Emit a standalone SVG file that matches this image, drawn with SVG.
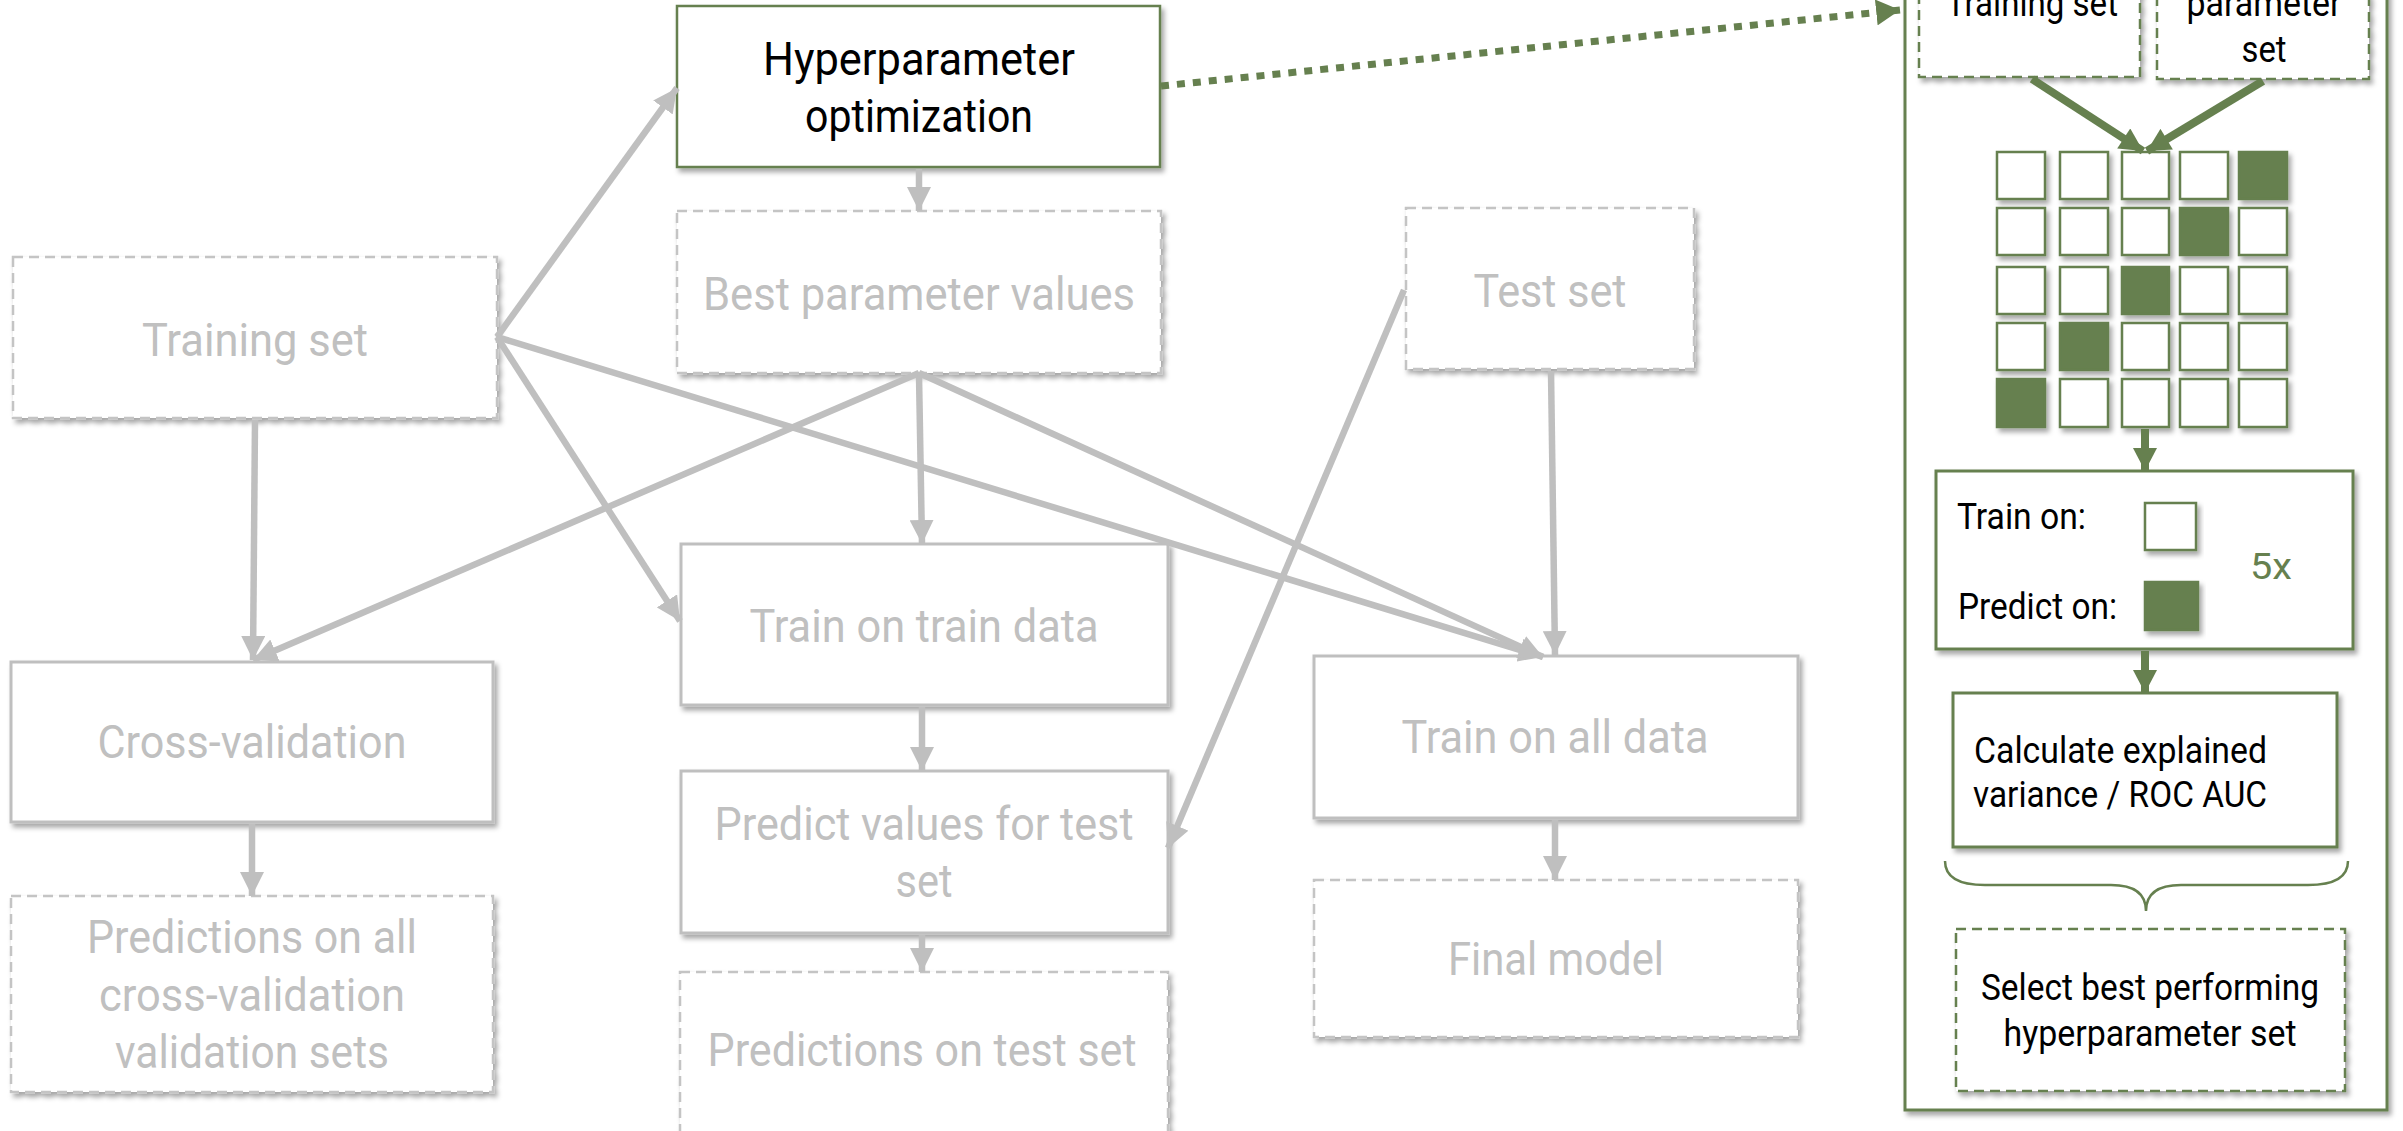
<svg xmlns="http://www.w3.org/2000/svg" width="2403" height="1131" viewBox="0 0 2403 1131">
  <style>
    .gbox { fill: #ffffff; stroke: #bfbfbf; stroke-width: 3; }
    .gdash { fill: #ffffff; stroke: #c4c4c4; stroke-width: 2.5; stroke-dasharray: 10 6; }
    .hbox { fill: #ffffff; stroke: #66804f; stroke-width: 2.5; }
    .vbox { fill: #ffffff; stroke: #66804f; stroke-width: 3; }
    .vdash { fill: #ffffff; stroke: #66804f; stroke-width: 2.5; stroke-dasharray: 10 6; }
    .cell { fill: #ffffff; stroke: #66804f; stroke-width: 2.5; }
    .cell.on { fill: #66804f; }
    .gt { font-family: Roboto, "Liberation Sans", sans-serif; font-size: 47px; fill: #c0c0c0; text-anchor: middle; }
    .bt { font-family: Roboto, "Liberation Sans", sans-serif; font-size: 47px; fill: #000000; text-anchor: middle; }
    .pt { font-family: Roboto, "Liberation Sans", sans-serif; font-size: 36px; fill: #000000; }
    .gline { fill: none; stroke: #bfbfbf; stroke-width: 6.5; marker-end: url(#ag); }
    .vline { fill: none; stroke: #66804f; stroke-width: 8; marker-end: url(#av); }
  </style>
  <defs>
    <filter id="sh" x="-10%" y="-10%" width="125%" height="130%">
      <feDropShadow dx="3" dy="4" stdDeviation="2.5" flood-color="#000000" flood-opacity="0.35"/>
    </filter>
    <marker id="ag" markerUnits="userSpaceOnUse" markerWidth="24" markerHeight="24" refX="22" refY="11" orient="auto" viewBox="0 0 22 22">
      <path d="M0,0 L22,11 L0,22 z" fill="#bfbfbf"/>
    </marker>
    <marker id="av" markerUnits="userSpaceOnUse" markerWidth="24" markerHeight="24" refX="22" refY="11.5" orient="auto" viewBox="0 0 22 23">
      <path d="M0,0 L22,11.5 L0,23 z" fill="#66804f"/>
    </marker>
    <marker id="adot" markerUnits="userSpaceOnUse" markerWidth="24" markerHeight="26" refX="22" refY="12" orient="auto" viewBox="0 0 22 24">
      <path d="M0,0 L22,12 L0,24 z" fill="#66804f"/>
    </marker>
  </defs>

  <!-- main workflow -->
  <g id="training-set">
    <rect class="gdash" x="13" y="257" width="484" height="161" filter="url(#sh)"/>
    <text class="gt" x="255" y="356" textLength="226" lengthAdjust="spacingAndGlyphs">Training set</text>
  </g>
  <g id="hyperparameter-optimization">
    <rect class="hbox" x="677" y="6" width="483" height="161" filter="url(#sh)"/>
    <text class="bt" x="919" y="75" textLength="312" lengthAdjust="spacingAndGlyphs">Hyperparameter</text>
    <text class="bt" x="919" y="132" textLength="228" lengthAdjust="spacingAndGlyphs">optimization</text>
  </g>
  <g id="best-parameter-values">
    <rect class="gdash" x="677" y="211" width="484" height="162" filter="url(#sh)"/>
    <text class="gt" x="919" y="310" textLength="432" lengthAdjust="spacingAndGlyphs">Best parameter values</text>
  </g>
  <g id="test-set">
    <rect class="gdash" x="1406" y="208" width="288" height="161" filter="url(#sh)"/>
    <text class="gt" x="1550" y="307" textLength="153" lengthAdjust="spacingAndGlyphs">Test set</text>
  </g>
  <g id="cross-validation">
    <rect class="gbox" x="11" y="662" width="482" height="160" filter="url(#sh)"/>
    <text class="gt" x="252" y="758" textLength="309" lengthAdjust="spacingAndGlyphs">Cross-validation</text>
  </g>
  <g id="cv-predictions">
    <rect class="gdash" x="11" y="896" width="482" height="196" filter="url(#sh)"/>
    <text class="gt" x="252" y="953" textLength="330" lengthAdjust="spacingAndGlyphs">Predictions on all</text>
    <text class="gt" x="252" y="1011" textLength="306" lengthAdjust="spacingAndGlyphs">cross-validation</text>
    <text class="gt" x="252" y="1068" textLength="274" lengthAdjust="spacingAndGlyphs">validation sets</text>
  </g>
  <g id="train-on-train-data">
    <rect class="gbox" x="681" y="544" width="487" height="161" filter="url(#sh)"/>
    <text class="gt" x="924" y="642" textLength="349" lengthAdjust="spacingAndGlyphs">Train on train data</text>
  </g>
  <g id="predict-test-values">
    <rect class="gbox" x="681" y="771" width="487" height="162" filter="url(#sh)"/>
    <text class="gt" x="924" y="840" textLength="419" lengthAdjust="spacingAndGlyphs">Predict values for test</text>
    <text class="gt" x="924" y="897" textLength="57" lengthAdjust="spacingAndGlyphs">set</text>
  </g>
  <g id="test-predictions">
    <rect class="gdash" x="680" y="972" width="488" height="161" filter="url(#sh)"/>
    <text class="gt" x="922" y="1066" textLength="429" lengthAdjust="spacingAndGlyphs">Predictions on test set</text>
  </g>
  <g id="train-on-all-data">
    <rect class="gbox" x="1314" y="656" width="484" height="162" filter="url(#sh)"/>
    <text class="gt" x="1555" y="753" textLength="307" lengthAdjust="spacingAndGlyphs">Train on all data</text>
  </g>
  <g id="final-model">
    <rect class="gdash" x="1314" y="880" width="484" height="157" filter="url(#sh)"/>
    <text class="gt" x="1556" y="975" textLength="216" lengthAdjust="spacingAndGlyphs">Final model</text>
  </g>

  <!-- optimization detail panel -->
  <g id="optimization-panel">
    <rect class="vbox" x="1905" y="-20" width="482" height="1130" filter="url(#sh)"/>
  </g>
  <g id="panel-training-set">
    <rect class="vdash" x="1919" y="-80" width="221" height="157" filter="url(#sh)"/>
    <text class="pt" x="2032" y="16" text-anchor="middle" textLength="172" lengthAdjust="spacingAndGlyphs">Training set</text>
  </g>
  <g id="panel-parameter-set">
    <rect class="vdash" x="2157" y="-80" width="212" height="159" filter="url(#sh)"/>
    <text class="pt" x="2264" y="16" text-anchor="middle" textLength="155" lengthAdjust="spacingAndGlyphs">parameter</text>
    <text class="pt" x="2264" y="62" text-anchor="middle" textLength="45" lengthAdjust="spacingAndGlyphs">set</text>
  </g>
  <g id="fold-grid" filter="url(#sh)">
    <rect class="cell" x="1997" y="152" width="48" height="47"/>
    <rect class="cell" x="2060" y="152" width="48" height="47"/>
    <rect class="cell" x="2122" y="152" width="47" height="47"/>
    <rect class="cell" x="2180" y="152" width="48" height="47"/>
    <rect class="cell on" x="2239" y="152" width="48" height="47"/>
    <rect class="cell" x="1997" y="208" width="48" height="47"/>
    <rect class="cell" x="2060" y="208" width="48" height="47"/>
    <rect class="cell" x="2122" y="208" width="47" height="47"/>
    <rect class="cell on" x="2180" y="208" width="48" height="47"/>
    <rect class="cell" x="2239" y="208" width="48" height="47"/>
    <rect class="cell" x="1997" y="267" width="48" height="47"/>
    <rect class="cell" x="2060" y="267" width="48" height="47"/>
    <rect class="cell on" x="2122" y="267" width="47" height="47"/>
    <rect class="cell" x="2180" y="267" width="48" height="47"/>
    <rect class="cell" x="2239" y="267" width="48" height="47"/>
    <rect class="cell" x="1997" y="323" width="48" height="47"/>
    <rect class="cell on" x="2060" y="323" width="48" height="47"/>
    <rect class="cell" x="2122" y="323" width="47" height="47"/>
    <rect class="cell" x="2180" y="323" width="48" height="47"/>
    <rect class="cell" x="2239" y="323" width="48" height="47"/>
    <rect class="cell on" x="1997" y="379" width="48" height="48"/>
    <rect class="cell" x="2060" y="379" width="48" height="48"/>
    <rect class="cell" x="2122" y="379" width="47" height="48"/>
    <rect class="cell" x="2180" y="379" width="48" height="48"/>
    <rect class="cell" x="2239" y="379" width="48" height="48"/>
  </g>
  <g id="train-predict-loop">
    <rect class="vbox" x="1936" y="471" width="417" height="178" filter="url(#sh)"/>
    <text class="pt" x="1957" y="529" textLength="129" lengthAdjust="spacingAndGlyphs">Train on:</text>
    <text class="pt" x="1958" y="619" textLength="159" lengthAdjust="spacingAndGlyphs">Predict on:</text>
    <rect class="cell" x="2145" y="503" width="51" height="47" filter="url(#sh)"/>
    <rect class="cell on" x="2145" y="582" width="53" height="48" stroke="none" filter="url(#sh)"/>
    <text x="2250" y="579" font-family="Roboto, 'Liberation Sans', sans-serif" font-size="36" fill="#66804f" textLength="42" lengthAdjust="spacingAndGlyphs">5x</text>
  </g>
  <g id="calculate-score">
    <rect class="vbox" x="1953" y="693" width="384" height="154" filter="url(#sh)"/>
    <text class="pt" x="1974" y="763" textLength="293" lengthAdjust="spacingAndGlyphs">Calculate explained</text>
    <text class="pt" x="1973" y="807" textLength="294" lengthAdjust="spacingAndGlyphs">variance / ROC AUC</text>
  </g>
  <g id="fold-brace">
    <path d="M1945,861 Q1945,885 1985,885 L2111,885 Q2146,885 2146,911 Q2146,885 2181,885 L2308,885 Q2348,885 2348,861" fill="none" stroke="#66804f" stroke-width="2.5"/>
  </g>
  <g id="select-best">
    <rect class="vdash" x="1956" y="929" width="389" height="162" filter="url(#sh)"/>
    <text class="pt" x="2150" y="1000" text-anchor="middle" textLength="338" lengthAdjust="spacingAndGlyphs">Select best performing</text>
    <text class="pt" x="2150" y="1046" text-anchor="middle" textLength="293" lengthAdjust="spacingAndGlyphs">hyperparameter set</text>
  </g>

  <!-- connectors, drawn over the boxes they join -->
  <g id="connectors">
    <line class="gline" x1="497" y1="337" x2="677" y2="88"/>
    <line class="gline" x1="497" y1="337" x2="680" y2="621"/>
    <line class="gline" x1="497" y1="337" x2="1543" y2="657"/>
    <line class="gline" x1="255" y1="420" x2="253" y2="660"/>
    <line class="gline" x1="919" y1="169" x2="919" y2="211"/>
    <line class="gline" x1="919" y1="373" x2="253" y2="660"/>
    <line class="gline" x1="919" y1="375" x2="922" y2="544"/>
    <line class="gline" x1="919" y1="373" x2="1543" y2="657"/>
    <line class="gline" x1="1551" y1="371" x2="1555" y2="655"/>
    <line class="gline" x1="1404" y1="290" x2="1168" y2="848"/>
    <line class="gline" x1="252" y1="824" x2="252" y2="896"/>
    <line class="gline" x1="922" y1="707" x2="922" y2="771"/>
    <line class="gline" x1="922" y1="935" x2="922" y2="972"/>
    <line class="gline" x1="1555" y1="820" x2="1555" y2="880"/>
    <line x1="1161" y1="86" x2="1900" y2="10" fill="none" stroke="#66804f" stroke-width="7" stroke-dasharray="8 8" marker-end="url(#adot)"/>
    <line class="vline" x1="2032" y1="79" x2="2143" y2="151"/>
    <line class="vline" x1="2263" y1="81" x2="2147" y2="151"/>
    <line class="vline" x1="2145" y1="429" x2="2145" y2="471"/>
    <line class="vline" x1="2145" y1="651" x2="2145" y2="693"/>
  </g>
</svg>
